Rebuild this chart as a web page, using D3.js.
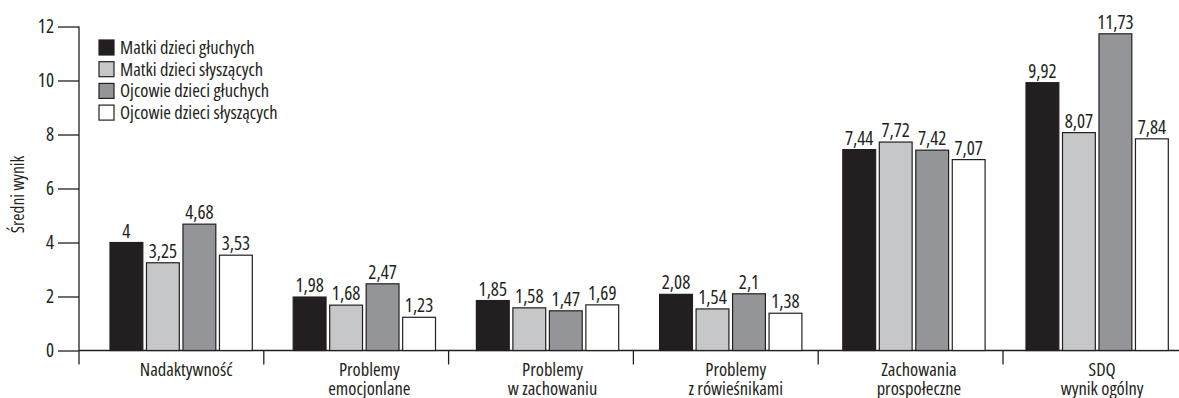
<!DOCTYPE html>
<html>
<head>
<meta charset="utf-8">
<script src="https://cdn.jsdelivr.net/npm/d3@7"></script>
<style>
  html, body { margin: 0; padding: 0; background: #fff; }
  svg { display: block; }
  text { font-family: "Open Sans", sans-serif; font-stretch: condensed; fill: #231f20; }
</style>
</head>
<body>
<svg id="chart" width="1179" height="398"></svg>
<script>
// Category labels (line breaks marked with \n)
const categories = [
  "Nadaktywność",
  "Problemy\nemocjonlane",
  "Problemy\nw zachowaniu",
  "Problemy\nz rówieśnikami",
  "Zachowania\nprospołeczne",
  "SDQ\nwynik ogólny"
];
const seriesNames = [
  "Matki dzieci głuchych",
  "Matki dzieci słyszących",
  "Ojcowie dzieci głuchych",
  "Ojcowie dzieci słyszących"
];
const matkiGluchych    = [4, 1.98, 1.85, 2.08, 7.44, 9.92];
const matkiSlyszacych  = [3.25, 1.68, 1.58, 1.54, 7.72, 8.07];
const ojcowieGluchych  = [4.68, 2.47, 1.47, 2.1, 7.42, 11.73];
const ojcowieSlyszacych = [3.53, 1.23, 1.69, 1.38, 7.07, 7.84];
const yTicks = [0, 2, 4, 6, 8, 10, 12];
const yTitle = "Średni wynik";

const seriesValues = [matkiGluchych, matkiSlyszacych, ojcowieGluchych, ojcowieSlyszacych];
const fills = ["#231f20", "#c6c7c9", "#939598", "#ffffff"];
const ink = "#231f20";

const svg = d3.select("#chart");

const axisX = 79;
const y = d3.scaleLinear().domain([0, 12]).range([350.5, 26.5]);

// Category bands for the separator ticks along the baseline
const xSep = d3.scaleBand().domain(categories).range([axisX, axisX + 6 * 184.8]);
// Bar groups inside each category
const xGroup = d3.scaleBand().domain(categories).range([110, 1168.3]).paddingInner(0.2233);
const xBar = d3.scaleBand().domain(d3.range(4)).range([0, xGroup.bandwidth()]).paddingInner(0.1);

// Y axis
const yAxis = svg.append("g")
  .attr("transform", `translate(${axisX},0)`)
  .call(d3.axisLeft(y).tickValues(yTicks).tickSize(21).tickPadding(4).tickFormat(d3.format("d")));
yAxis.select(".domain").remove();
yAxis.selectAll(".tick line").attr("stroke", ink).attr("stroke-width", 1.3);
yAxis.selectAll(".tick text")
  .attr("font-size", 19)
  .attr("font-family", null)
  .attr("fill", ink);

// Vertical axis line (extends below zero like the separators)
svg.append("line")
  .attr("x1", axisX).attr("x2", axisX)
  .attr("y1", y(12)).attr("y2", y(0) + 14)
  .attr("stroke", ink).attr("stroke-width", 1.3);

// Baseline
svg.append("line")
  .attr("x1", axisX).attr("x2", 1179)
  .attr("y1", y(0)).attr("y2", y(0))
  .attr("stroke", ink).attr("stroke-width", 1.3);

// Separator ticks between categories
svg.append("g").selectAll("line")
  .data(categories.slice(1))
  .join("line")
  .attr("x1", d => xSep(d)).attr("x2", d => xSep(d))
  .attr("y1", y(0)).attr("y2", y(0) + 14)
  .attr("stroke", ink).attr("stroke-width", 1.3);

// Bars and value labels
const fmt = v => String(v).replace(".", ",");
const groups = svg.append("g").selectAll("g")
  .data(categories)
  .join("g")
  .attr("transform", d => `translate(${xGroup(d)},0)`);

groups.each(function(cat, ci) {
  const g = d3.select(this);
  seriesValues.forEach((vals, si) => {
    const v = vals[ci];
    g.append("rect")
      .attr("x", xBar(si))
      .attr("y", y(v))
      .attr("width", xBar.bandwidth())
      .attr("height", y(0) - y(v))
      .attr("fill", fills[si])
      .attr("stroke", ink)
      .attr("stroke-width", 1.2);
    g.append("text")
      .attr("x", xBar(si) + xBar.bandwidth() / 2)
      .attr("y", y(v) - 5)
      .attr("text-anchor", "middle")
      .attr("font-size", 19)
      .text(fmt(v));
  });
});

// Category labels
svg.append("g").selectAll("text")
  .data(categories)
  .join("text")
  .attr("x", d => xGroup(d) + xGroup.bandwidth() / 2 + 5)
  .attr("y", 376)
  .attr("text-anchor", "middle")
  .attr("font-size", 18.5)
  .each(function(d) {
    const lines = d.split("\n");
    d3.select(this).selectAll("tspan")
      .data(lines)
      .join("tspan")
      .attr("x", d3.select(this).attr("x"))
      .attr("dy", (l, i) => i === 0 ? 0 : 18.5)
      .text(l => l);
  });

// Y axis title
svg.append("text")
  .attr("transform", `translate(24,${(y(0) + y(12)) / 2 + 6}) rotate(-90)`)
  .attr("text-anchor", "middle")
  .attr("font-size", 17.5)
  .text(yTitle);

// Legend
const legend = svg.append("g").attr("transform", "translate(99,40)");
const rows = legend.selectAll("g")
  .data(seriesNames)
  .join("g")
  .attr("transform", (d, i) => `translate(0,${i * 21.7})`);
rows.append("rect")
  .attr("width", 15).attr("height", 15)
  .attr("fill", (d, i) => fills[i])
  .attr("stroke", ink).attr("stroke-width", 1.2);
rows.append("text")
  .attr("x", 21).attr("y", 14)
  .attr("font-size", 18.5)
  .text(d => d);
</script>
</body>
</html>
